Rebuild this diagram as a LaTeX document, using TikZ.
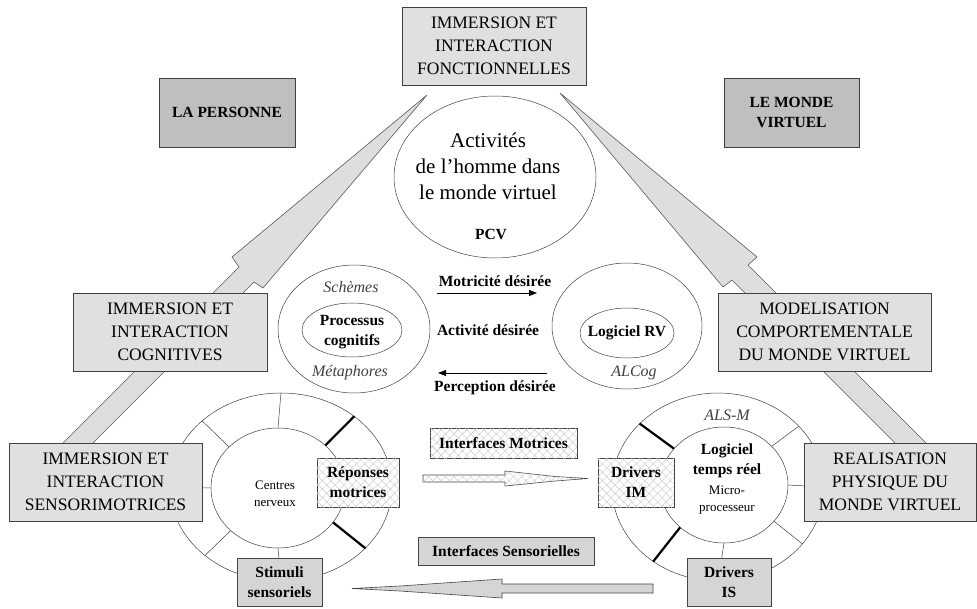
\documentclass[tikz,border=0pt]{standalone}
\usepackage{fontspec}
\setmainfont{Liberation Serif}[BoldFont={Liberation Serif Bold}, ItalicFont={Liberation Serif Italic}, BoldItalicFont={Liberation Serif Bold Italic}]
\usetikzlibrary{arrows.meta,patterns.meta,shapes.geometric}
\tikzset{
  bigbox/.style={draw=black!75, fill=black!12, line width=0.6pt, inner sep=0pt, align=center, font=\fontsize{17.5}{23}\selectfont},
  titlebox/.style={draw=black!75, fill=black!25, line width=0.6pt, inner sep=0pt, align=center, minimum width=136pt, minimum height=69pt, font=\bfseries\fontsize{15.5}{20}\selectfont},
  hatchbox/.style={draw=black!75, fill=white, line width=0.6pt, postaction={pattern={Hatch[angle=45,distance=6pt,line width=0.4pt]}, pattern color=black!22}, inner sep=0pt, align=center, font=\bfseries\fontsize{15.5}{20}\selectfont},
  dotbox/.style={draw=black!75, fill=black!14, line width=0.6pt, postaction={pattern={Dots[distance=2pt,radius=0.45pt]}, pattern color=black!40}, inner sep=0pt, align=center, font=\bfseries\fontsize{15.5}{20}\selectfont},
  hatchfill/.style={draw=black!75, fill=white, line width=0.6pt, postaction={pattern={Hatch[angle=45,distance=6pt,line width=0.4pt]}, pattern color=black!22}},
  dotfill/.style={draw=black!75, fill=black!14, line width=0.6pt, postaction={pattern={Dots[distance=2pt,radius=0.45pt]}, pattern color=black!40}},
  ring/.style={ellipse, draw=black!75, line width=0.5pt, inner sep=0pt},
  spoke/.style={draw=black!75, line width=0.5pt},
  thickspoke/.style={draw=black, line width=2.2pt},
  wedge/.style={draw=black!65, fill=black!13, line width=0.6pt, line join=miter},
  lbl/.style={font=\bfseries\fontsize{15.5}{20}\selectfont, inner sep=0pt, align=center},
  itl/.style={font=\itshape\fontsize{16}{20}\selectfont, text=black!75, inner sep=0pt},
  smalltxt/.style={font=\fontsize{13}{17}\selectfont, align=center, inner sep=0pt},
  midarrow/.style={draw=black, line width=0.8pt, -{Triangle[length=8pt,width=6pt]}}
}
\begin{document}
\begin{tikzpicture}[x=1pt,y=-1pt]
\useasboundingbox (0,0) rectangle (977,608);

% diagonal arms
\draw[wedge] (427,95) -- (263,288) -- (254,282) -- (86,450) -- (56,450) -- (239,267) -- (232,257) -- cycle;
\draw[wedge] (560,93) -- (757,257) -- (748,265) -- (933,450) -- (902,450) -- (732,280) -- (723,287) -- cycle;

% top ellipse
\node[ring, minimum width=202pt, minimum height=162pt] (pcv) at (495,177) {};
\node[font=\fontsize{21}{26}\selectfont, align=center, inner sep=0pt] (act) at (488,166) {Activités\\de l’homme dans\\le monde virtuel};
\node[lbl] (pcvl) at (491,234) {PCV};

% cognitive ellipses
\node[ring, minimum width=152pt, minimum height=128pt] (sch) at (354,329) {};
\node[ring, minimum width=100pt, minimum height=54pt] (proc) at (352,330) {};
\node[lbl] (proct) at (352,332) {Processus\\cognitifs};
\node[itl] (schl) at (351,287) {Schèmes};
\node[itl] (metl) at (350,373) {Métaphores};

\node[ring, minimum width=150pt, minimum height=126pt] (alc) at (627,326) {};
\node[ring, minimum width=94pt, minimum height=50pt] (lrv) at (627,333) {};
\node[lbl] (lrvt) at (627,333) {Logiciel RV};
\node[itl] (alcl) at (634,373) {ALCog};

% middle arrows
\node[lbl] (motl) at (495,281) {Motricité désirée};
\node[lbl] (actl) at (488,330) {Activité désirée};
\node[lbl] (perl) at (495,388) {Perception désirée};
\coordinate (m1) at (437,293);
\coordinate (m2) at (537,293);
\coordinate (p1) at (547,373);
\coordinate (p2) at (438,373);
\draw[midarrow] (m1) -- (m2);
\draw[midarrow] (p1) -- (p2);

% left ring
\node[ring, minimum width=222pt, minimum height=188pt] (lo) at (281,487) {};
\node[ring, minimum width=134pt, minimum height=120pt] (li) at (278,488) {};
\draw[spoke] (lo.90) -- (li.90);
\draw[spoke] (lo.140) -- (li.140);
\draw[spoke] (lo.180) -- (li.180);
\draw[spoke] (lo.222) -- (li.222);
\draw[spoke] (lo.270) -- (li.270);
\draw[thickspoke] (lo.44) -- (li.42);
\draw[thickspoke] (lo.-36) -- (li.-32);
\node[smalltxt] (cn) at (275,494) {Centres\\nerveux};

% right ring
\node[ring, minimum width=212pt, minimum height=188pt] (ro) at (718,487) {};
\node[ring, minimum width=128pt, minimum height=116pt] (ri) at (724,485) {};
\draw[thickspoke] (ro.141) -- (ri.144);
\draw[thickspoke] (ro.229) -- (ri.224);
\draw[spoke] (ro.37) -- (ri.39);
\draw[spoke] (ro.-34) -- (ri.-36);
\draw[spoke] (ro.0) -- (ri.0);
\draw[spoke] (ro.270) -- (ri.270);
\node[itl] (alsm) at (727,415) {ALS-M};
\node[lbl] (ltr) at (727,461) {Logiciel\\temps réel};
\node[smalltxt] (mp) at (727,500) {Micro-\\processeur};

% interface arrows
\draw[hatchfill] (423,475) -- (505,475) -- (505,471) -- (555,476.5) -- (588,478.5) -- (555,481) -- (505,486) -- (505,482) -- (423,482) -- cycle;
\draw[dotfill] (653,584) -- (502,584) -- (502,579) -- (400,586) -- (352,588.5) -- (400,591) -- (502,598) -- (502,593) -- (653,593) -- cycle;

% boxes
\node[bigbox, minimum width=184pt, minimum height=78pt] (fonc) at (494,46) {IMMERSION ET\\INTERACTION\\FONCTIONNELLES};
\node[bigbox, minimum width=194pt, minimum height=78pt] (cog) at (170,332) {IMMERSION ET\\INTERACTION\\COGNITIVES};
\node[bigbox, minimum width=193pt, minimum height=78pt] (sens) at (105.5,482) {IMMERSION ET\\INTERACTION\\SENSORIMOTRICES};
\node[bigbox, minimum width=213pt, minimum height=78pt] (mod) at (824.5,332) {MODELISATION\\COMPORTEMENTALE\\DU MONDE VIRTUEL};
\node[bigbox, minimum width=172pt, minimum height=78pt] (real) at (890,482) {REALISATION\\PHYSIQUE DU\\MONDE VIRTUEL};
\node[titlebox] (pers) at (227,112.5) {LA PERSONNE};
\node[titlebox, minimum width=135pt] (monde) at (791.5,112.5) {LE MONDE\\VIRTUEL};

\node[hatchbox, minimum width=147pt, minimum height=30pt] (im) at (503.5,443) {Interfaces Motrices};
\node[dotbox, minimum width=176pt, minimum height=28pt] (is) at (506,551) {Interfaces Sensorielles};
\node[hatchbox, minimum width=82pt, minimum height=49pt] (rep) at (358,482.5) {Réponses\\motrices};
\node[dotbox, minimum width=85pt, minimum height=48pt] (stim) at (279.5,582) {Stimuli\\sensoriels};
\node[hatchbox, minimum width=76pt, minimum height=49pt] (dim) at (636,482.5) {Drivers\\IM};
\node[dotbox, minimum width=84pt, minimum height=48pt] (dis) at (729,582) {Drivers\\IS};
\end{tikzpicture}
\end{document}
